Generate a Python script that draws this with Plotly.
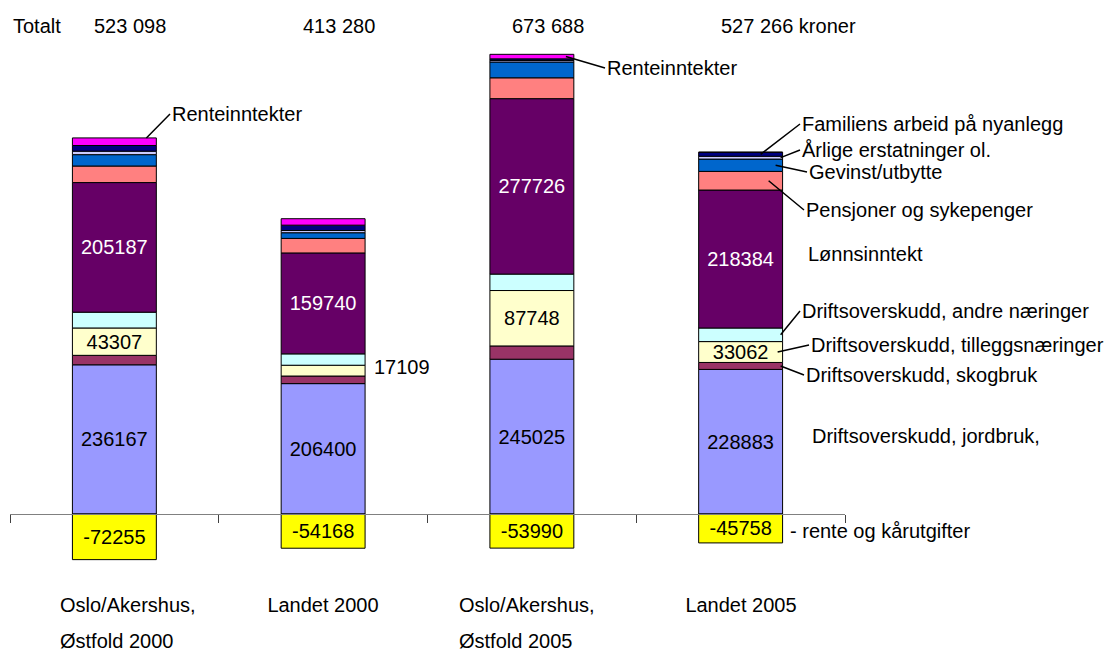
import plotly.graph_objects as go

# ---------------- data ----------------
categories = [["Oslo/Akershus,", "Østfold 2000"], ["Landet 2000"],
              ["Oslo/Akershus,", "Østfold 2005"], ["Landet 2005"]]
cat_keys = ["Oslo/Akershus, Østfold 2000", "Landet 2000",
            "Oslo/Akershus, Østfold 2005", "Landet 2005"]

series_names = ["Driftsoverskudd, jordbruk,", "Driftsoverskudd, skogbruk",
                "Driftsoverskudd, tilleggsnæringer", "Driftsoverskudd, andre næringer",
                "Lønnsinntekt", "Pensjoner og sykepenger", "Gevinst/utbytte",
                "Årlige erstatninger ol.", "Familiens arbeid på nyanlegg",
                "Renteinntekter", "- rente og kårutgifter"]

jordbruk = [236167, 206400, 245025, 228883]
skogbruk = [15000, 12000, 21000, 11000]
tillegg = [43307, 17109, 87748, 33062]
andre = [25000, 18000, 26000, 21500]
lonn = [205187, 159740, 277726, 218384]
pensjon = [26192, 23000, 33000, 29500]
gevinst = [18000, 9000, 25000, 19500]
arlige = [5500, 3500, 2500, 4500]
familie = [9000, 8500, 2500, 6000]
rente_inn = [12000, 10199, 7179, 695]
rente_ut = [-72255, -54168, -53990, -45758]

series_values = [jordbruk, skogbruk, tillegg, andre, lonn, pensjon, gevinst,
                 arlige, familie, rente_inn, rente_ut]
colors = ["#9999FF", "#993366", "#FFFFCC", "#CCFFFF", "#660066", "#FF8080",
          "#0066CC", "#CCCCFF", "#000080", "#FF00FF", "#FFFF00"]
labelled = {0, 2, 4, 10}  # series with value labels in the bars

# ---------------- layout constants ----------------
FONT = "Liberation Sans, Arial, sans-serif"
FS = 20
W, H = 1117, 652
ML, MR, MT, MB = 10, 272, 40, 82
SCALE = 1583.0  # value units per pixel
PW, PH = W - ML - MR, H - MT - MB
ZERO_PX = 514
YMAX = (ZERO_PX - MT) * SCALE
YMIN = -(MT + PH - ZERO_PX) * SCALE
CATW = PW / len(cat_keys)


def ypx(v):
    return MT + (YMAX - v) / (YMAX - YMIN) * PH


def xpx(i):
    return ML + (i + 0.5) * CATW


def xpaper(px):
    return (px - ML) / PW


def ypaper(py):
    return (MT + PH - py) / PH


# cumulative positions of positive segments
cum = []
base = [0] * 4
for vals in series_values[:-1]:
    lo = base[:]
    hi = [b + v for b, v in zip(base, vals)]
    cum.append((lo, hi))
    base = hi
cum.append(([0] * 4, rente_ut))

fig = go.Figure()
for k, (name, vals, col) in enumerate(zip(series_names, series_values, colors)):
    texts = []
    for i, v in enumerate(vals):
        if k in labelled and not (k == 2 and v < 25000):
            texts.append(str(v))
        else:
            texts.append("")
    fig.add_trace(go.Bar(
        x=cat_keys, y=vals, name=name,
        marker=dict(color=col, line=dict(color="#000000", width=1)),
        text=texts, textposition="inside", insidetextanchor="middle",
        textangle=0, constraintext="none",
        insidetextfont=dict(family=FONT, size=FS,
                            color="#FFFFFF" if k == 4 else "#000000"),
        cliponaxis=False, hoverinfo="skip",
    ))

annotations = []

# Totals row
totals = [sum(v[i] for v in series_values) for i in range(4)]
annotations.append(dict(xref="paper", yref="paper", x=xpaper(11), y=ypaper(26),
                        text="Totalt", showarrow=False, xanchor="left",
                        yanchor="middle"))
for i, t in enumerate(totals):
    s = f"{t:,}".replace(",", " ")
    if i == len(totals) - 1:
        s += " kroner"
    annotations.append(dict(xref="x", yref="paper", x=cat_keys[i], xshift=-22,
                            y=ypaper(26), text=s, showarrow=False,
                            xanchor="left", yanchor="middle"))

# Category labels at the bottom
for i, lines in enumerate(categories):
    shift = 19 if i == 0 else 0
    for j, line in enumerate(lines):
        annotations.append(dict(xref="x", yref="paper", x=cat_keys[i],
                                xshift=shift, y=ypaper(605 + 36 * j),
                                text=line, showarrow=False, width=146,
                                align="left" if len(lines) > 1 else "center",
                                xanchor="center", yanchor="middle"))

# outside label for small tilleggsnæringer segment
for i, v in enumerate(tillegg):
    if v < 25000:
        lo, hi = cum[2]
        annotations.append(dict(xref="x", yref="y", x=cat_keys[i], xshift=49,
                                y=(lo[i] + hi[i]) / 2 + 6000, text=str(v),
                                showarrow=False, xanchor="left",
                                yanchor="middle"))

# Series labels next to last bar: (series index, text px, text py, tip dx or None)
label_specs = [
    (8, 800, 124, 20),
    (7, 800, 150, 40),
    (6, 807, 172, 35),
    (5, 804, 210, 28),
    (4, 806, 254, None),
    (3, 800, 311, 40),
    (2, 809, 345, 37),
    (1, 804, 375, 40),
    (0, 810, 436, None),
    (10, 788, 531, None),
]
last = 3
for k, tx, ty, dx in label_specs:
    if dx is None:
        annotations.append(dict(xref="paper", yref="paper", x=xpaper(tx),
                                y=ypaper(ty), text=series_names[k],
                                showarrow=False, xanchor="left",
                                yanchor="middle"))
    else:
        lo, hi = cum[k]
        ymid = (lo[last] + hi[last]) / 2
        tipx, tipy = xpx(last) + dx, ypx(ymid)
        annotations.append(dict(xref="x", yref="y", x=cat_keys[last], xshift=dx,
                                y=ymid, text=series_names[k], showarrow=True,
                                arrowhead=0, arrowwidth=1.5, arrowcolor="#000000",
                                ax=tx - tipx, ay=ty - tipy, xanchor="left",
                                yanchor="middle"))

# Renteinntekter labels on bar 1 and bar 3
for i, tx, ty, dx, frac in [(0, 170, 114, 32, 1.0), (2, 605, 68, 34, 0.5)]:
    lo, hi = cum[9]
    yv = lo[i] + (hi[i] - lo[i]) * frac
    tipx, tipy = xpx(i) + dx, ypx(yv)
    annotations.append(dict(xref="x", yref="y", x=cat_keys[i], xshift=dx, y=yv,
                            text=series_names[9], showarrow=True, arrowhead=0,
                            arrowwidth=1.5, arrowcolor="#000000",
                            ax=tx - tipx, ay=ty - tipy, xanchor="left",
                            yanchor="middle"))

fig.update_layout(
    width=W, height=H,
    margin=dict(l=ML, r=MR, t=MT, b=MB),
    barmode="relative", bargap=0.598,
    showlegend=False,
    paper_bgcolor="#FFFFFF", plot_bgcolor="#FFFFFF",
    font=dict(family=FONT, size=FS, color="#000000"),
    annotations=annotations,
    xaxis=dict(type="category", range=[-0.5, 3.5], anchor="free",
               position=(0 - YMIN) / (YMAX - YMIN),
               showline=True, linecolor="#808080", linewidth=1,
               ticks="outside", tickson="boundaries", ticklen=8,
               tickcolor="#404040", tickwidth=1,
               showticklabels=False, showgrid=False, zeroline=False,
               fixedrange=True),
    yaxis=dict(range=[YMIN, YMAX], visible=False, showgrid=False,
               zeroline=False, fixedrange=True),
)

fig.write_html(
    "out.html",
    config={"displayModeBar": False},
    post_script="document.body.style.margin='0';document.body.style.overflow='hidden';",
)
